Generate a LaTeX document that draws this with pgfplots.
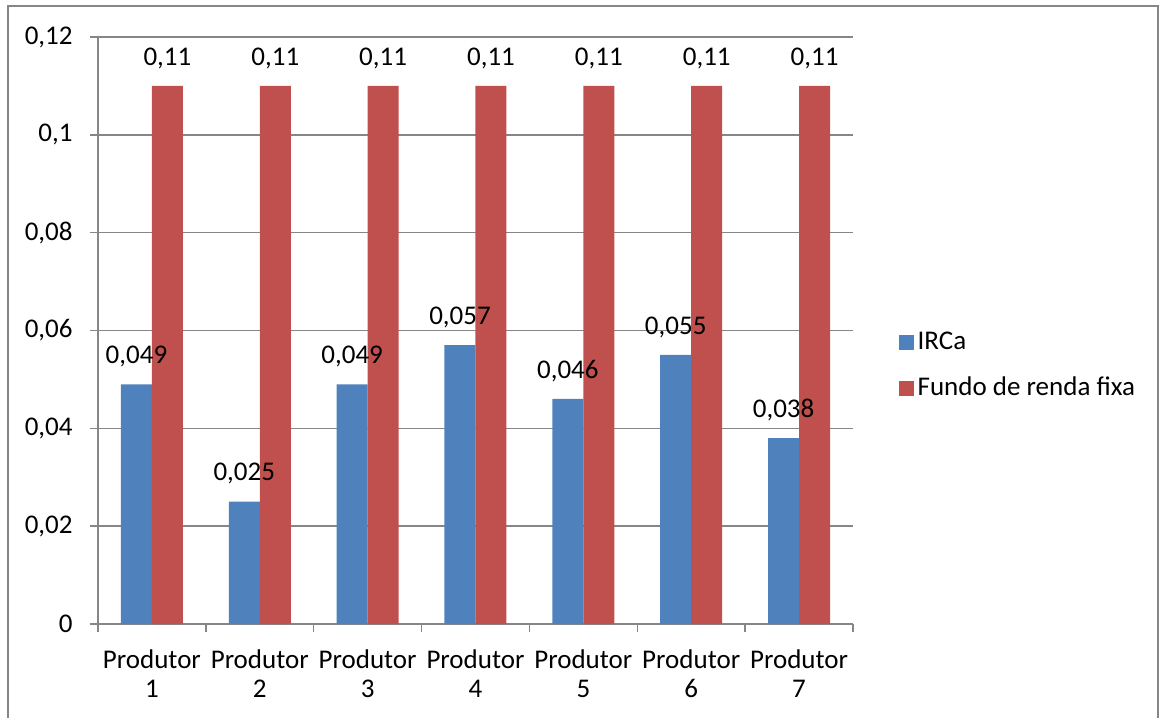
\documentclass[border=0pt]{standalone}
\usepackage{fontspec}
\setmainfont{Carlito}
\usepackage{pgfplots}
\pgfplotsset{compat=1.18}
\definecolor{barblue}{RGB}{79,129,189}
\definecolor{barred}{RGB}{192,80,77}
\definecolor{axgray}{RGB}{134,134,134}
\begin{document}
\fontsize{13.5}{15}\selectfont
\begin{tikzpicture}
\useasboundingbox (-49pt,-46.5pt) rectangle (531pt,312pt);
\draw[axgray, line width=0.75pt] (-45pt,-60pt) -- (-45pt,309pt) -- (530pt,309pt) -- (530pt,-60pt);
\begin{axis}[
  at={(0pt,0pt)}, anchor=south west,
  scale only axis,
  width=377.5pt, height=293.5pt,
  ybar=0pt, bar width=15.5pt,
  xmin=0.5, xmax=7.5, ymin=0, ymax=0.12,
  ytick={0,0.02,0.04,0.06,0.08,0.1,0.12},
  xtick={0.5,1.5,2.5,3.5,4.5,5.5,6.5,7.5},
  xticklabels={{Produtor\\1},{Produtor\\2},{Produtor\\3},{Produtor\\4},{Produtor\\5},{Produtor\\6},{Produtor\\7},{}},
  xticklabel style={align=center, xshift=26.96pt, yshift=-4pt, font=\fontsize{13.5}{14.5}\selectfont},
  yticklabel style={font=\fontsize{13.5}{15}\selectfont, xshift=-4pt},
  axis lines*=left,
  axis line style={draw=axgray, line width=0.75pt, -},
  tick style={draw=axgray, line width=0.75pt},
  tick align=outside, major tick length=4pt,
  ymajorgrids, grid style={draw=axgray, line width=0.75pt},
  /pgf/number format/.cd, use comma, fixed, precision=3, assume math mode=true,
  /pgfplots/.cd,
  scaled y ticks=false,
  nodes near coords,
  every node near coord/.append style={font=\fontsize{13.5}{15}\selectfont, black, yshift=4pt},
  legend style={at={(1.052,0.44)}, anchor=west, draw=none, fill=none,
    font=\fontsize{13.5}{15}\selectfont, row sep=8pt},
  legend cell align=left,
  legend image code/.code={\fill (0pt,-3.75pt) rectangle (7.5pt,3.75pt);},
]
\addplot[fill=barblue, draw=none] coordinates {(1,0.049) (2,0.025) (3,0.049) (4,0.057) (5,0.046) (6,0.055) (7,0.038)};
\addplot[fill=barred, draw=none] coordinates {(1,0.11) (2,0.11) (3,0.11) (4,0.11) (5,0.11) (6,0.11) (7,0.11)};
\legend{IRCa, Fundo de renda fixa}
\end{axis}
\end{tikzpicture}
\end{document}
